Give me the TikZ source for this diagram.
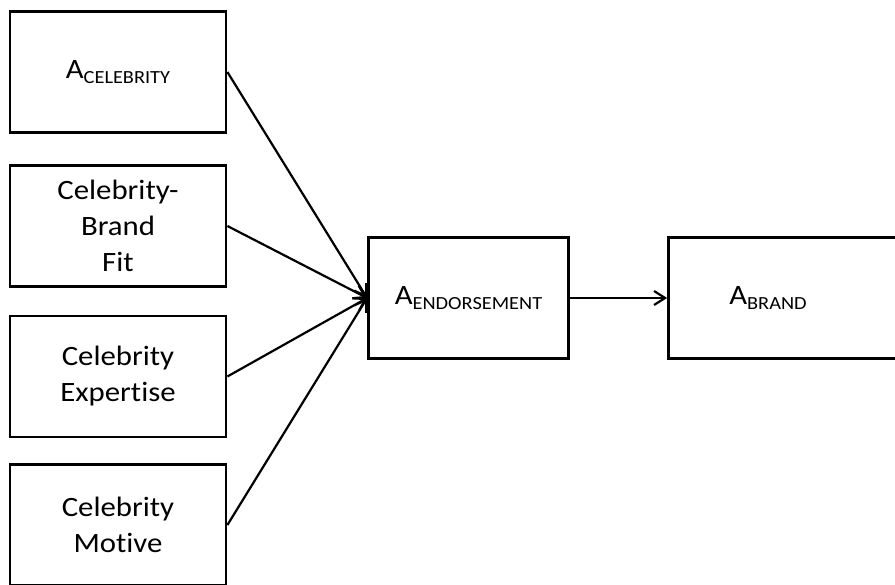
\documentclass[tikz,border=0pt]{standalone}
\usepackage{fontspec}
\setmainfont{Carlito}[FakeStretch=1.1,Ligatures=NoCommon]
\usetikzlibrary{arrows.meta}
\newcommand{\attsub}[1]{A\raisebox{-5pt}{\fontsize{18.5}{18.5}\selectfont #1}}
\tikzset{
  atttext/.style={font=\fontsize{28}{36}\selectfont},
  factor/.style={atttext, draw, line width=2.8pt, minimum width=216pt, minimum height=121pt, inner sep=0pt, align=center},
  link/.style={line width=2.2pt, -{Straight Barb[length=11pt,width=14pt]}}
}
\begin{document}
\begin{tikzpicture}[x=1pt,y=-1pt]
\useasboundingbox (0,0) rectangle (895,585);
\node[factor] (celeb) at (118,72) {\attsub{CELEBRITY}};
\node[factor] (fit) at (118,226) {Celebrity-\\Brand\\Fit};
\node[factor] (expert) at (118,376.5) {Celebrity\\Expertise};
\node[factor] (motive) at (118,525) {Celebrity\\Motive};
\node[factor, minimum width=200pt] (endorse) at (468.5,298) {\attsub{ENDORSEMENT}};
\node[factor, minimum width=260pt] (brand) at (798.5,298) {};
\node[atttext] (brandlbl) at (768,298) {\attsub{BRAND}};
\foreach \src in {celeb,fit,expert,motive}
  \draw[link] (\src.east) -- (endorse.west);
\draw[link] (endorse) -- (brand);
\end{tikzpicture}
\end{document}
